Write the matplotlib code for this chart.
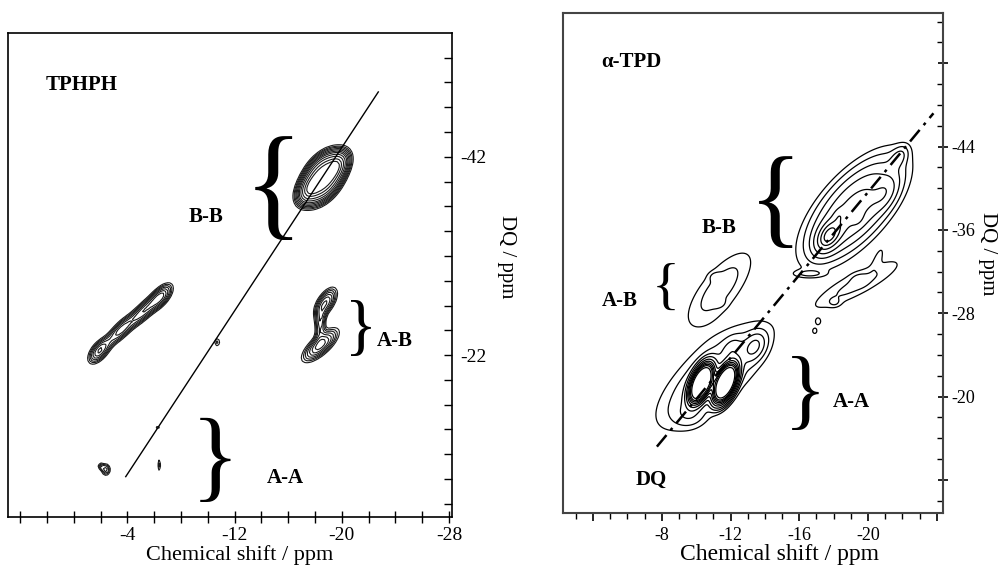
import numpy as np
import matplotlib.pyplot as plt

plt.rcParams['font.family'] = ['Liberation Serif', 'DejaVu Serif']

# ---------------------------------------------------------------
#   Peak lists (x / ppm, DQ / ppm, half-length, half-width, angle, height, shape)
#   angle is measured in the (x, DQ/2) plane, 45 = along the diagonal
#   shape 2 = gaussian, larger = flatter top
# ---------------------------------------------------------------

# TPHPH
tp_x   = [-18.6, -17.3, -19.9, -1.9, -3.5, -5.2, -6.5, -18.4, -18.8, -18.4, -10.7, -6.27, -6.39, -2.4, -2.0]
tp_y   = [-39.9, -38.4, -41.4, -22.4, -24.5, -26.4, -27.9, -23.0, -27.3, -25.2, -23.3, -14.7, -10.9, -10.45, -10.8]
tp_len = [1.35, 0.6, 0.6, 0.6, 0.8, 0.8, 0.65, 0.95, 0.65, 0.5, 0.2, 0.15, 0.3, 0.25, 0.15]
tp_wid = [0.8, 0.4, 0.4, 0.3, 0.28, 0.28, 0.3, 0.33, 0.33, 0.25, 0.2, 0.12, 0.12, 0.22, 0.12]
tp_ang = [32, 30, 30, 32, 32, 32, 32, 28, 39, 80, 0, 0, 90, 0, 0]
tp_amp = [2.6, 0.8, 0.8, 1.1, 1.0, 1.0, 1.1, 1.2, 1.1, 0.8, 0.45, 0.4, 0.45, 0.7, 0.5]
tp_pow = [3, 2, 2, 2, 2, 2, 2, 2, 2, 2, 2, 2, 2, 2, 2]
tp_levels = [0.3, 0.4, 0.5, 0.62, 0.76, 0.92, 1.1, 1.35, 1.65, 2.0, 2.3]
tp_diag_x = [-3.88, -22.72]
tp_diag_y = [-9.74, -48.54]

# alpha-TPD
ad_x   = [-10.3, -11.7, -11.0, -13.4, -12.1, -9.6,
          -19.2, -17.7, -18.3, -19.4, -21.0, -21.8,
          -11.36, -11.13, -11.3, -19.4, -18.06, -19.46, -17.1, -16.9, -16.56, -20.6]
ad_y   = [-21.3, -21.3, -22.0, -24.8, -24.6, -18.2,
          -38.1, -35.4, -37.4, -37.1, -39.5, -43.0,
          -30.35, -31.5, -29.0, -30.8, -29.0, -31.2, -27.2, -26.3, -31.8, -33.4]
ad_len = [0.8, 0.8, 2.5, 0.5, 0.4, 0.6,
          2.0, 0.55, 0.25, 0.25, 0.6, 0.4,
          1.8, 0.25, 0.25, 2.1, 0.25, 0.3, 0.15, 0.15, 0.6, 0.4]
ad_wid = [0.42, 0.42, 0.95, 0.35, 0.3, 0.4,
          0.9, 0.35, 0.2, 0.2, 0.35, 0.25,
          0.7, 0.15, 0.15, 0.42, 0.15, 0.2, 0.15, 0.15, 0.12, 0.15]
ad_ang = [60, 60, 35, 45, 45, 0,
          40, 45, 45, 45, 50, 45,
          43, 0, 0, 23, 0, 0, 0, 0, 0, 60]
ad_amp = [12, 12, 1.2, 1.3, 0.6, 0.5,
          3.0, 3.4, 0.6, 0.6, 1.0, 0.8,
          0.8, 0.35, 0.35, 0.7, 0.3, 0.3, 0.45, 0.45, 0.5, 0.4]
ad_pow = [3, 3, 2, 2, 2, 2,
          2, 2, 2, 2, 2, 2,
          2, 2, 2, 2, 2, 2, 2, 2, 2, 2]
ad_levels = [0.35, 0.6, 1.0, 1.6, 2.5, 3.5, 4.5, 5.5, 6.5, 8.0]
ad_diag_x = [-7.72, -23.8]
ad_diag_y = [-15.2, -47.2]


def spectrum(X, Y, cx, cy, ln, wd, ang, amp, pw):
    Z = np.zeros_like(X)
    W = Y / 2.0
    for x0, y0, l, w, a, h, p in zip(cx, cy, ln, wd, ang, amp, pw):
        t = np.radians(a)
        du = X - x0
        dw = W - y0 / 2.0
        along = du * np.cos(t) + dw * np.sin(t)
        perp = -du * np.sin(t) + dw * np.cos(t)
        r2 = (along / l) ** 2 + (perp / w) ** 2
        Z += h * np.exp(-0.5 * r2 ** (p / 2.0))
    return Z


fig = plt.figure(figsize=(10.01, 5.65), dpi=100)

#----------------------------------------------------------------
#   TPHPH
#----------------------------------------------------------------
ax1 = fig.add_axes([0.0083, 0.0855, 0.443, 0.856])
X, Y = np.meshgrid(np.arange(5, -28.5, -0.16), np.arange(-55, -5, 0.26))
Z = spectrum(X, Y, tp_x, tp_y, tp_len, tp_wid, tp_ang, tp_amp, tp_pow)
ax1.contour(X, Y, Z, levels=tp_levels, colors='#1a1a1a', linewidths=0.8)
ax1.plot(tp_diag_x, tp_diag_y, color='black', lw=1.0)

ax1.set_xlim(4.88, -28.2)
ax1.set_ylim(-5.7, -54.48)
ax1.yaxis.tick_right()
ax1.yaxis.set_label_position('right')

xt = np.arange(4, -29, -2)
ax1.set_xticks(xt)
ax1.set_xticklabels([str(int(v)) if v in (-4, -12, -20, -28) else '' for v in xt])
yt = np.arange(-52, -6.9, 2.5)
ax1.set_yticks(yt)
ax1.set_yticklabels([str(int(v)) if v in (-42, -22) else '' for v in yt])
ax1.tick_params(axis='x', direction='inout', length=9, width=1.0, labelsize=14, pad=3)
ax1.tick_params(axis='y', direction='in', length=6, width=1.0, labelsize=14, pad=6)
for s in ax1.spines.values():
    s.set_linewidth(1.2)

ax1.set_xlabel('Chemical shift / ppm', fontsize=16)
ax1.xaxis.set_label_coords(0.5225, -0.079)
ax1.xaxis.label.set_va('center')
ax1.set_ylabel('DQ / ppm', fontsize=15, rotation=270)
ax1.yaxis.set_label_coords(1.124, 0.537)
ax1.yaxis.label.set_va('center')

bold = dict(fontsize=15, fontweight='bold', ha='center', va='center')
ax1.text(-0.6, -49.24, 'TPHPH', **bold)
ax1.text(-9.89, -35.9, 'B-B', **bold)
ax1.text(-23.93, -23.41, 'A-B', **bold)
ax1.text(-15.8, -9.63, 'A-A', **bold)
ax1.text(-14.9, -38.36, '{', fontsize=89, ha='center', va='center')
ax1.text(-21.41, -24.5, '}', fontsize=48, ha='center', va='center')
ax1.text(-10.58, -11.0, '}', fontsize=73, ha='center', va='center')

#----------------------------------------------------------------
#   alpha-TPD
#----------------------------------------------------------------
ax2 = fig.add_axes([0.5621, 0.0915, 0.3802, 0.885])
X, Y = np.meshgrid(np.arange(-2, -24.5, -0.05), np.arange(-57, -8.5, 0.1))
Z = spectrum(X, Y, ad_x, ad_y, ad_len, ad_wid, ad_ang, ad_amp, ad_pow)
ax2.contour(X, Y, Z, levels=ad_levels, colors='black', linewidths=0.9)
ax2.plot(ad_diag_x, ad_diag_y, color='black', lw=1.8, dashes=(6, 2.5, 1.2, 2.5))

ax2.set_xlim(-2.24, -24.37)
ax2.set_ylim(-8.8, -56.8)
ax2.yaxis.tick_right()
ax2.yaxis.set_label_position('right')

xt = [-4, -8, -12, -16, -20, -24]
ax2.set_xticks(xt)
ax2.set_xticklabels(['', '-8', '-12', '-16', '-20', ''])
ax2.set_xticks(np.arange(-3, -25, -1), minor=True)
yt = [-52, -44, -36, -28, -20, -12]
ax2.set_yticks(yt)
ax2.set_yticklabels(['', '-44', '-36', '-28', '-20', ''])
ax2.set_yticks(np.arange(-56, -9, 2), minor=True)
ax2.tick_params(axis='x', which='major', direction='out', length=6, width=1.2, labelsize=13, pad=4)
ax2.tick_params(axis='x', which='minor', direction='out', length=4, width=1.0)
ax2.tick_params(axis='y', which='major', direction='inout', length=7, width=1.2, labelsize=13, pad=2)
ax2.tick_params(axis='y', which='minor', direction='in', length=4, width=1.0)
for s in ax2.spines.values():
    s.set_linewidth(1.5)
    s.set_color('#444444')

ax2.set_xlabel('Chemical shift / ppm', fontsize=17)
ax2.xaxis.set_label_coords(0.571, -0.083)
ax2.xaxis.label.set_va('center')
ax2.set_ylabel('DQ / ppm', fontsize=15, rotation=270)
ax2.yaxis.set_label_coords(1.117, 0.52)
ax2.yaxis.label.set_va('center')

ax2.text(-6.24, -52.17, 'α-TPD', **bold)
ax2.text(-11.36, -36.23, 'B-B', **bold)
ax2.text(-5.57, -29.17, 'A-B', **bold)
ax2.text(-19.04, -19.5, 'A-A', **bold)
ax2.text(-7.41, -12.0, 'DQ', **bold)
ax2.text(-14.62, -38.3, '{', fontsize=80, ha='center', va='center')
ax2.text(-8.23, -30.25, '{', fontsize=42, ha='center', va='center')
ax2.text(-16.33, -20.0, '}', fontsize=64, ha='center', va='center')

fig.savefig('out.png', dpi=100)
